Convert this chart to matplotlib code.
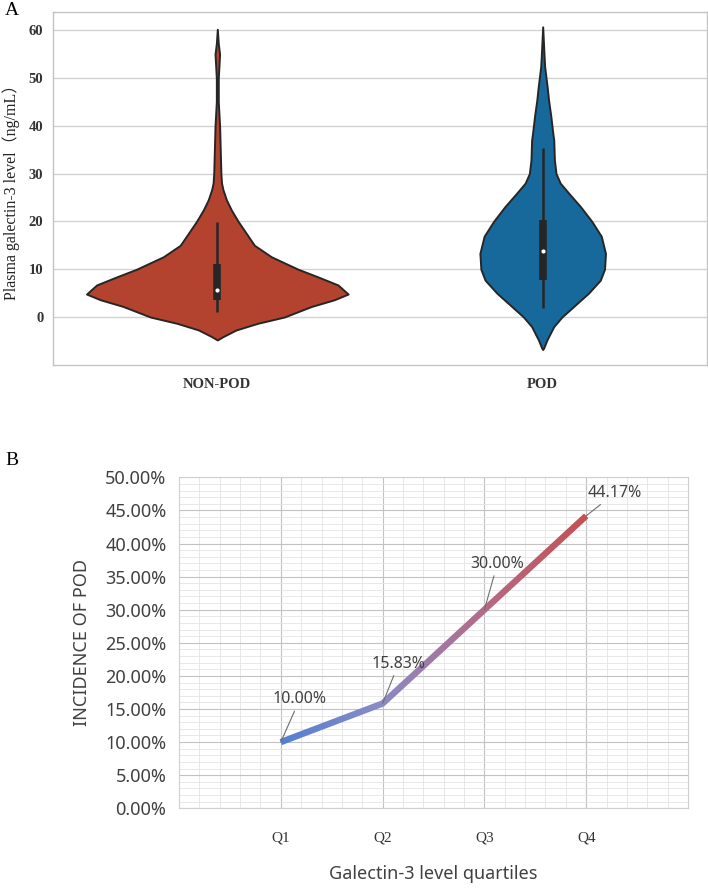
"""
Two-panel figure: (A) violin plot of plasma galectin-3, (B) POD incidence by quartile.
Violin outlines are read off the original figure (value, half-width) rather than raw samples.
"""
import matplotlib
matplotlib.use("Agg")
import matplotlib.pyplot as plt
import numpy as np
from matplotlib.colors import LinearSegmentedColormap
from matplotlib.patches import Polygon
from matplotlib.ticker import MultipleLocator, FixedLocator

# ---- panel A data ----
GROUPS = ["NON-POD", "POD"]
GROUP_COLORS = ["#b3432f", "#17699c"]

# density outline: value (ng/mL) and half-width (category units)
NONPOD_Y = [60.2, 57.2, 55.0, 50.0, 45.0, 40.0, 35.0, 30.0, 28.0, 26.6, 24.5, 22.4,
            20.0, 17.5, 15.0, 12.6, 10.0, 8.4, 6.7, 4.8, 3.6, 2.2, 0.0, -1.3, -2.7,
            -4.1, -4.8]
NONPOD_W = [0.0, 0.003, 0.007, 0.003, 0.003, 0.007, 0.009, 0.011, 0.013, 0.0175,
            0.028, 0.043, 0.064, 0.089, 0.114, 0.166, 0.248, 0.309, 0.371, 0.402,
            0.359, 0.289, 0.206, 0.125, 0.058, 0.0175, 0.0]
POD_Y = [60.7, 55.0, 52.4, 48.0, 45.4, 42.0, 38.5, 37.0, 32.8, 30.0, 28.0, 25.9, 23.1,
         20.0, 16.9, 13.3, 10.0, 7.7, 5.0, 2.2, 0.0, -2.0, -4.8, -6.5, -6.8]
POD_W = [0.0, 0.004, 0.006, 0.014, 0.018, 0.025, 0.031, 0.034, 0.036, 0.041, 0.054,
         0.080, 0.116, 0.151, 0.180, 0.193, 0.190, 0.177, 0.141, 0.095, 0.059, 0.034,
         0.013, 0.003, 0.0]

# whisker low, q1, median, q3, whisker high
NONPOD_BOX = [1.0, 3.6, 5.6, 11.0, 19.8]
POD_BOX = [1.8, 7.7, 13.9, 20.2, 35.3]

# ---- panel B data ----
QUARTILES = ["Q1", "Q2", "Q3", "Q4"]
INCIDENCE = [10.00, 15.83, 30.00, 44.17]
LABEL_OFFSETS = [(19, 43), (16, 40), (13, 46), (29, 23)]  # pixels

LINE_COLORS = ["#4d7fcf", "#8a8bc6", "#b66984", "#c44f4d"]

SERIF = ["Liberation Serif", "Noto Sans CJK SC"]
SANS = ["Noto Sans", "DejaVu Sans"]
GREY_TXT = "#404040"

W, H = 708, 888
fig = plt.figure(figsize=(W / 100, H / 100), dpi=100)


def frac(left, top, right, bottom):
    return [left / W, 1 - bottom / H, (right - left) / W, (bottom - top) / H]


# =============== panel A ===============
axA = fig.add_axes(frac(53, 12, 707, 365))
axA.set_xlim(-0.505, 1.505)
axA.set_ylim(-10.04, 63.8)

profiles = [(NONPOD_Y, NONPOD_W, NONPOD_BOX), (POD_Y, POD_W, POD_BOX)]
for i, (ys, ws, box) in enumerate(profiles):
    ys = np.asarray(ys)
    ws = np.asarray(ws)
    axA.fill_betweenx(ys, i - ws, i + ws, facecolor=GROUP_COLORS[i],
                      edgecolor="#262626", linewidth=1.4, zorder=2)
    lo, q1, med, q3, hi = box
    axA.vlines(i, lo, hi, color="#262626", lw=1.8, zorder=3)
    axA.vlines(i, q1, q3, color="#262626", lw=5.5, zorder=3)
    axA.scatter([i], [med], s=9, color="white", zorder=4, linewidths=0)

axA.set_yticks([0, 10, 20, 30, 40, 50, 60])
axA.set_xticks([0, 1])
axA.set_xticklabels(GROUPS)
axA.grid(axis="y", color="#d2d2d2", lw=1.0)
axA.set_axisbelow(True)
for s in axA.spines.values():
    s.set_color("#c4c4c4")
    s.set_linewidth(1.0)
axA.tick_params(axis="both", length=0, colors="#333333")
axA.tick_params(axis="y", pad=7)
axA.tick_params(axis="x", pad=9.5)
for lab in axA.get_yticklabels() + axA.get_xticklabels():
    lab.set_family(SERIF)
    lab.set_fontweight("bold")
    lab.set_fontsize(10.5)
axA.set_ylabel("Plasma galectin-3 level（ng/mL）", family=SERIF, fontsize=11.5,
               color="#222222")
axA.yaxis.set_label_coords(-0.050, 0.5)

fig.text(5 / W, 1 - 2 / H, "A", family=SERIF, fontsize=14, va="top", ha="left")

# =============== panel B ===============
axB = fig.add_axes(frac(179, 477.3, 688, 808.3))
x = np.arange(1, len(QUARTILES) + 1)
axB.set_xlim(0, 5)
axB.set_ylim(0, 50)

axB.yaxis.set_major_locator(MultipleLocator(5))
axB.yaxis.set_minor_locator(MultipleLocator(1))
axB.xaxis.set_major_locator(FixedLocator(x))
axB.xaxis.set_minor_locator(MultipleLocator(0.2))
axB.set_xticklabels(QUARTILES)
axB.set_yticklabels([f"{v:.2f}%" for v in axB.get_yticks()])
axB.grid(which="major", color="#c2c2c2", lw=0.8)
axB.grid(which="minor", color="#e4e4e4", lw=0.6)
axB.set_axisbelow(True)
for s in axB.spines.values():
    s.set_color("#cfcfcf")
    s.set_linewidth(0.8)
axB.tick_params(which="both", length=0)
axB.tick_params(axis="y", pad=9, labelsize=13, colors=GREY_TXT)
axB.tick_params(axis="x", pad=16.5, labelsize=11, colors="#333333")
for lab in axB.get_yticklabels():
    lab.set_family(SANS)
for lab in axB.get_xticklabels():
    lab.set_family(SERIF)

axB.set_ylabel("INCIDENCE OF POD", family=SANS, fontsize=13, color=GREY_TXT)
axB.yaxis.set_label_coords(-0.172, 0.5)
axB.set_xlabel("Galectin-3 level quartiles", family=SANS, fontsize=13, color=GREY_TXT)
axB.xaxis.set_label_coords(0.5, -0.170)

# thick line with a colour gradient: band polygon + clipped gradient image
pts = axB.transData.transform(np.column_stack([x, INCIDENCE]))
d = np.diff(pts, axis=0)
n = np.column_stack([-d[:, 1], d[:, 0]]) / np.hypot(d[:, 0], d[:, 1])[:, None]
vn = np.empty_like(pts)
vn[0], vn[-1] = n[0], n[-1]
for k in range(1, len(pts) - 1):
    m = n[k - 1] + n[k]
    m /= np.linalg.norm(m)
    vn[k] = m / np.dot(m, n[k])
half = 3.2
band = np.vstack([pts + vn * half, (pts - vn * half)[::-1]])
band = axB.transData.inverted().transform(band)
band_patch = Polygon(band, closed=True, facecolor="none", edgecolor="none")
axB.add_patch(band_patch)
cmap = LinearSegmentedColormap.from_list("pod", LINE_COLORS)
grad = np.linspace(0, 1, 256).reshape(1, -1)
im = axB.imshow(grad, extent=[x[0] - 0.1, x[-1] + 0.1, 0, 50], aspect="auto",
                cmap=cmap, zorder=3, interpolation="bilinear")
im.set_clip_path(band_patch)
axB.set_xlim(0, 5)
axB.set_ylim(0, 50)

for xi, yi, off in zip(x, INCIDENCE, LABEL_OFFSETS):
    axB.annotate(f"{yi:.2f}%", xy=(xi, yi), xytext=off, textcoords="offset pixels",
                 ha="center", va="center", family=SANS, fontsize=11.5, color=GREY_TXT,
                 arrowprops=dict(arrowstyle="-", color="#6e6e6e", lw=0.8,
                                 shrinkA=1, shrinkB=0),
                 zorder=5)

fig.text(5 / W, 1 - 452 / H, "B", family=SERIF, fontsize=14, va="top", ha="left")

fig.savefig("out.png", dpi=100)
